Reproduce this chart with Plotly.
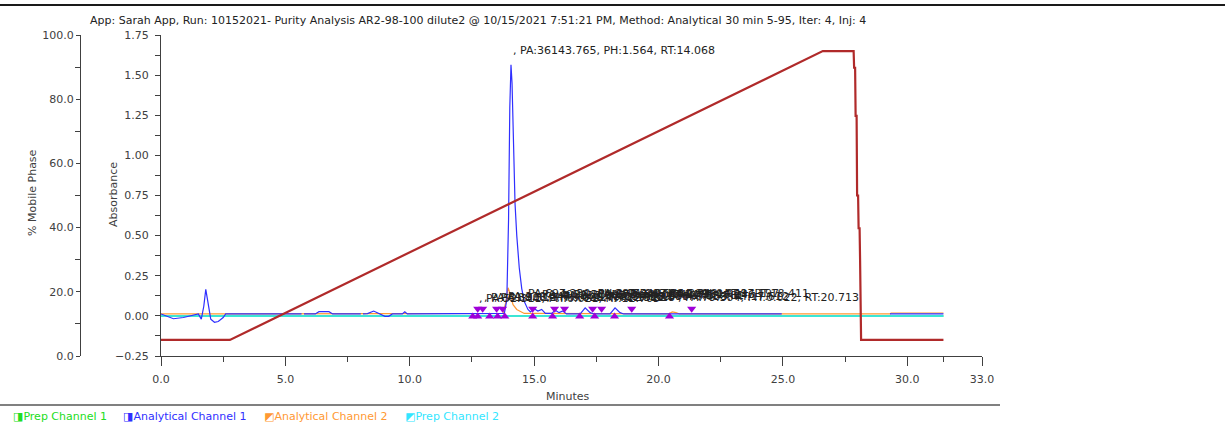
import plotly.graph_objects as go

# ---------------- data ----------------
title_text = ("App: Sarah App, Run: 10152021- Purity Analysis AR2-98-100 dilute2 @ 10/15/2021 "
              "7:51:21 PM, Method: Analytical 30 min 5-95, Iter: 4, Inj: 4")

# Gradient (% Mobile Phase)
grad_time = [0.0, 2.77, 26.6, 27.84, 27.86, 27.9, 27.92, 27.96, 27.98, 28.02, 28.04, 28.08,
             28.1, 28.14, 31.45]
grad_pct = [5.0, 5.0, 95.0, 95.0, 89.8, 89.8, 74.8, 74.8, 50.0, 50.0, 39.8, 39.8, 29.8, 5.0, 5.0]

# Analytical Channel 1 (absorbance), None = gap in trace
ch1_time = [0.0, 0.2, 0.5, 0.9, 1.3, 1.5, 1.62, 1.72, 1.8, 1.9, 2.0, 2.15, 2.3, 2.5, 2.6,
            5.65, 5.7, 5.75, 6.2, 6.35, 6.75, 6.9, 8.03, 8.07, 8.12, 8.3, 8.55, 8.8,
            9.0, 9.15, 9.3, 9.7, 9.8, 9.9, 13.8, 13.9, 13.97, 14.02, 14.068, 14.11, 14.17,
            14.23, 14.3, 14.4, 14.5, 14.6, 14.75, 14.85, 15.0, 15.15, 15.3, 15.45, 15.7,
            15.85, 16.0, 16.15, 16.3, 16.85, 17.05, 17.25, 17.4, 18.05, 18.25, 18.45, 18.6,
            24.95, 25.0, 29.3, 31.45]
ch1_abs = [0.012, 0.0, -0.018, -0.01, 0.005, 0.012, -0.02, 0.06, 0.165, 0.08, -0.02, -0.04,
           -0.035, -0.01, 0.012, 0.012, None, 0.012, 0.012, 0.026, 0.026, 0.012, 0.012, None,
           0.012, 0.014, 0.03, 0.014, -0.003, -0.003, 0.012, 0.012, 0.025, 0.012,
           0.015, 0.1, 0.6, 1.3, 1.564, 1.45, 1.0, 0.7, 0.5, 0.3, 0.17, 0.09, 0.04, 0.025,
           0.045, 0.03, 0.04, 0.015, 0.015, 0.035, 0.02, 0.03, 0.012, 0.012, 0.05, 0.02,
           0.012, 0.012, 0.05, 0.02, 0.012, 0.012, None, 0.012, 0.012]

# Analytical Channel 2 (absorbance)
ch2_time = [0.0, 13.75, 13.85, 13.95, 14.05, 14.15, 14.3, 14.45, 14.6, 20.4, 20.55, 20.7,
            20.85, 29.3, 29.35, 31.45]
ch2_abs = [0.012, 0.015, 0.08, 0.175, 0.13, 0.07, 0.04, 0.025, 0.015, 0.012, 0.025, 0.02,
           0.012, 0.012, 0.018, 0.018]

# Prep channels (flat)
prep1_time = [0.0, 31.45]
prep1_abs = [0.0, 0.0]
prep2_time = [0.0, 31.45]
prep2_abs = [0.0, 0.0]

# Peak markers
peak_start_time = [12.53, 12.73, 13.21, 13.53, 13.82, 14.94, 15.74, 16.83, 17.43, 18.23, 20.44]
peak_start_abs = [-0.004] * len(peak_start_time)
peak_end_time = [12.73, 12.93, 13.49, 13.73, 14.94, 15.82, 16.22, 17.35, 17.71, 18.92, 21.33]
peak_end_abs = [0.045] * len(peak_end_time)

# Peak labels
peak_rt = [12.705, 12.912, 13.318, 13.586, 14.068, 14.392, 14.954, 15.781, 16.246, 17.197,
           17.612, 18.411, 20.713]
peak_ph = [0.021, 0.025, 0.027, 0.030, 1.564, 0.052, 0.044, 0.036, 0.041, 0.048, 0.033,
           0.049, 0.022]
peak_pa = [52.311, 61.908, 88.512, 120.447, 36143.765, 697.230, 402.118, 233.905, 310.672,
           287.540, 154.209, 263.804, 79.304]

x_major = [0, 5, 10, 15, 20, 25, 30, 33]
x_minor = [2.5, 7.5, 12.5, 17.5, 22.5, 27.5, 31.45]

legend_names = ["Prep Channel 1", "Analytical Channel 1", "Analytical Channel 2", "Prep Channel 2"]
legend_icons = ["\u25E8", "\u25E8", "\u25E9", "\u25E9"]

# ---------------- styling ----------------
FONT = "DejaVu Sans"
C_GREEN = "#22dd22"
C_BLUE = "#2f2fff"
C_ORANGE = "#ff9933"
C_CYAN = "#33e6ff"
C_RED = "#b02a2a"
C_PURPLE = "#a000d8"
C_AXIS = "#404040"

W, H = 1225, 433
ML, MR, MT, MB = 80, W - 982, 35, 77
PW = W - ML - MR
PH_ = H - MT - MB


def px2x(px):
    return (px - ML) / PW


def py2y(py):
    return (H - MB - py) / PH_


fig = go.Figure()

fig.add_trace(go.Scatter(x=grad_time, y=grad_pct, yaxis="y2", mode="lines",
                         line=dict(color=C_RED, width=2.2), name="Gradient", showlegend=False))
fig.add_trace(go.Scatter(x=prep1_time, y=prep1_abs, mode="lines",
                         line=dict(color=C_GREEN, width=1.5), name=legend_names[0], showlegend=False))
fig.add_trace(go.Scatter(x=prep2_time, y=prep2_abs, mode="lines",
                         line=dict(color=C_CYAN, width=1.5), name=legend_names[3], showlegend=False))
fig.add_trace(go.Scatter(x=ch2_time, y=ch2_abs, mode="lines",
                         line=dict(color=C_ORANGE, width=1.2), name=legend_names[2], showlegend=False))
fig.add_trace(go.Scatter(x=ch1_time, y=ch1_abs, mode="lines", connectgaps=False,
                         line=dict(color=C_BLUE, width=1.2), name=legend_names[1], showlegend=False))
fig.add_trace(go.Scatter(x=peak_start_time, y=peak_start_abs, mode="markers",
                         marker=dict(symbol="triangle-up", size=8, color=C_PURPLE),
                         showlegend=False))
fig.add_trace(go.Scatter(x=peak_end_time, y=peak_end_abs, mode="markers",
                         marker=dict(symbol="triangle-down", size=8, color=C_PURPLE),
                         showlegend=False))

annotations = []
for rt, ph, pa in zip(peak_rt, peak_ph, peak_pa):
    annotations.append(dict(x=rt, y=ph, xref="x", yref="y", xanchor="left", yanchor="bottom",
                            yshift=6, showarrow=False,
                            text=f", PA:{pa:.3f}, PH:{ph:.3f}, RT:{rt:.3f}",
                            font=dict(family=FONT, size=11, color="#222222")))

annotations.append(dict(x=px2x(88), y=py2y(20), xref="paper", yref="paper", xanchor="left",
                        yanchor="middle", showarrow=False, text=title_text,
                        font=dict(family=FONT, size=11, color="#222222")))
annotations.append(dict(x=px2x(113), y=py2y(195), xref="paper", yref="paper", textangle=-90,
                        xanchor="center", yanchor="middle",
                        showarrow=False, text="Absorbance",
                        font=dict(family=FONT, size=11, color=C_AXIS)))
annotations.append(dict(x=px2x(32), y=py2y(193), xref="paper", yref="paper", textangle=-90,
                        xanchor="center", yanchor="middle",
                        showarrow=False, text="% Mobile Phase",
                        font=dict(family=FONT, size=11, color=C_AXIS)))
annotations.append(dict(x=px2x(568), y=py2y(396), xref="paper", yref="paper",
                        xanchor="center", yanchor="middle",
                        showarrow=False, text="Minutes",
                        font=dict(family=FONT, size=11, color=C_AXIS)))

leg_x = [11, 121, 262, 403]
leg_colors = [C_GREEN, C_BLUE, C_ORANGE, C_CYAN]
for lx, name, icon, col in zip(leg_x, legend_names, legend_icons, leg_colors):
    annotations.append(dict(x=px2x(lx), y=py2y(416), xref="paper", yref="paper",
                            xanchor="left", yanchor="middle", showarrow=False,
                            text=f"{icon}{name}",
                            font=dict(family=FONT, size=11, color=col)))

shapes = [
    dict(type="line", xref="paper", yref="paper", x0=px2x(0), x1=px2x(1225),
         y0=py2y(5), y1=py2y(5), line=dict(color="#1a1a1a", width=2)),
    dict(type="line", xref="paper", yref="paper", x0=px2x(0), x1=px2x(1000),
         y0=py2y(405), y1=py2y(405), line=dict(color="#808080", width=2)),
]

fig.update_layout(
    width=W, height=H,
    margin=dict(l=ML, r=MR, t=MT, b=MB, pad=0),
    paper_bgcolor="white", plot_bgcolor="white",
    font=dict(family=FONT, size=11, color=C_AXIS),
    showlegend=False,
    annotations=annotations,
    shapes=shapes,
    xaxis=dict(domain=[px2x(161), 1], range=[0, 33], showgrid=False, zeroline=False,
               showline=True, linecolor=C_AXIS, linewidth=1,
               tickmode="array", tickvals=x_major,
               ticktext=[f"{v:.1f}" for v in x_major],
               ticks="outside", ticklen=9, tickcolor=C_AXIS, ticklabelstandoff=4,
               tickfont=dict(family=FONT, size=11, color=C_AXIS),
               minor=dict(tickmode="array", tickvals=x_minor, ticks="outside", ticklen=5,
                          tickcolor=C_AXIS, showgrid=False),
               anchor="y"),
    yaxis=dict(range=[-0.25, 1.75], showgrid=False, zeroline=False,
               showline=True, linecolor=C_AXIS, linewidth=1,
               tickmode="linear", tick0=-0.25, dtick=0.25, tickformat=".2f",
               ticks="outside", ticklen=5, tickcolor=C_AXIS, ticklabelstandoff=4,
               tickfont=dict(family=FONT, size=11, color=C_AXIS),
               minor=dict(tickmode="linear", tick0=-0.125, dtick=0.25, ticks="outside",
                          ticklen=5, tickcolor=C_AXIS, showgrid=False),
               anchor="x"),
    yaxis2=dict(range=[0, 100], overlaying="y", anchor="free", position=0, side="left",
                showgrid=False, zeroline=False, showline=True, linecolor=C_AXIS, linewidth=1,
                tickmode="linear", tick0=0, dtick=20, tickformat=".1f",
                ticks="outside", ticklen=4, tickcolor=C_AXIS,
                tickfont=dict(family=FONT, size=11, color=C_AXIS),
                minor=dict(tickmode="linear", tick0=10, dtick=20, ticks="outside",
                           ticklen=5, tickcolor=C_AXIS, showgrid=False)),
)

fig.write_html("out.html")
